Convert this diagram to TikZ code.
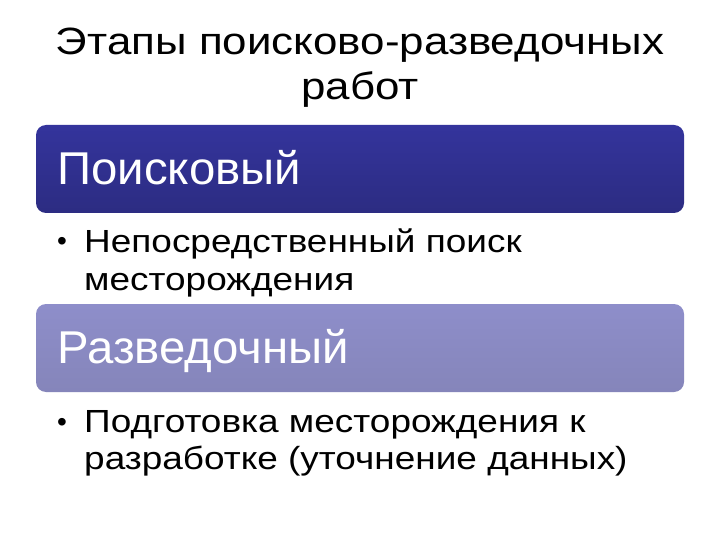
\documentclass[tikz,border=0pt]{standalone}
\usepackage{fontspec}
\setmainfont{Liberation Sans}
\newfontfamily\widefont[FakeStretch=1.155]{Liberation Sans}
\newfontfamily\headfont[FakeStretch=1.03]{Liberation Sans}
\begin{document}
\begin{tikzpicture}[x=1pt,y=-1pt,
  title/.style={anchor=base,inner sep=0pt,font=\widefont\fontsize{38}{45}\selectfont,text=black},
  boxa/.style={rounded corners=10pt,minimum width=648pt,minimum height=88pt,inner sep=0pt,
    top color=bluetop,bottom color=bluebot,draw=none},
  boxb/.style={rounded corners=10pt,minimum width=648pt,minimum height=88pt,inner sep=0pt,
    top color=lavtop,bottom color=lavbot,draw=none},
  head/.style={anchor=base west,inner sep=0pt,font=\headfont\fontsize{46}{50}\selectfont,text=white},
  body/.style={anchor=base west,inner sep=0pt,font=\widefont\fontsize{32}{38}\selectfont,text=black},
  bul/.style={anchor=base west,inner sep=0pt,font=\fontsize{28}{30}\selectfont,text=black}]
\definecolor{bluetop}{HTML}{34349C}
\definecolor{bluebot}{HTML}{2C2C82}
\definecolor{lavtop}{HTML}{8E8ECA}
\definecolor{lavbot}{HTML}{8585BA}
\useasboundingbox (0,0) rectangle (720,540);
\fill[white] (0,0) rectangle (720,540);
\node[title] (t1) at (360,55) {Этапы поисково-разведочных};
\node[title] (t2) at (360,100) {работ};
\node[boxa] (b1) at (360,169) {};
\node[head] (h1) at (57,185) {Поисковый};
\node[bul] (u1) at (57,251) {•};
\node[body] (l1) at (84,252) {Непосредственный поиск};
\node[body] (l2) at (84,290) {месторождения};
\node[boxb] (b2) at (360,348) {};
\node[head] (h2) at (57,363) {Разведочный};
\node[bul] (u2) at (57,431) {•};
\node[body] (l3) at (84,432) {Подготовка месторождения к};
\node[body] (l4) at (84,469) {разработке (уточнение данных)};
\end{tikzpicture}
\end{document}
